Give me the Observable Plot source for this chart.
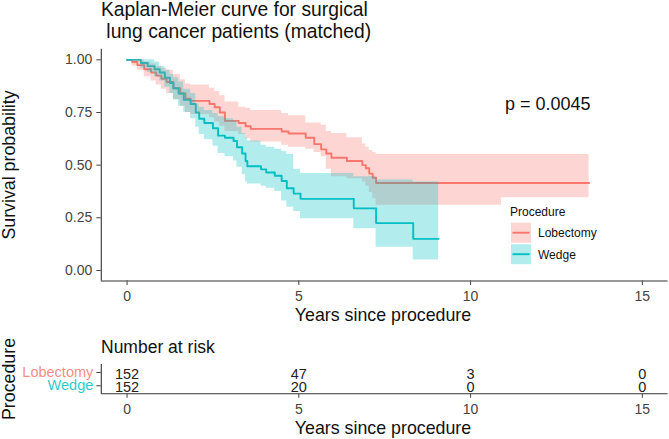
<!DOCTYPE html>
<html>
<head>
<meta charset="utf-8">
<script src="https://cdn.jsdelivr.net/npm/d3@7"></script>
<script src="https://cdn.jsdelivr.net/npm/@observablehq/plot@0.6"></script>
<style>
  html, body { margin: 0; padding: 0; background: #fff; }
  #fig { position: relative; width: 669px; height: 439px; font-family: "Liberation Sans", Arial, sans-serif; }
  #fig svg.plot { display: block; }
  #overlay { position: absolute; left: 0; top: 0; pointer-events: none; }
  #overlay text { font-family: "Liberation Sans", Arial, sans-serif; fill: #111; }
</style>
</head>
<body>
<div id="fig">
  <div id="main"></div>
  <div id="table"></div>
  <svg id="overlay" width="669" height="439" xmlns="http://www.w3.org/2000/svg"></svg>
</div>
<script>
// ---------------- data ----------------
const groups = ["Lobectomy", "Wedge"];
const groupColors = ["#F8766D", "#00BFC4"];

const lobTime  = [0, 0.15, 0.3, 0.5, 0.7, 0.85, 1.0, 1.15, 1.35, 1.55, 1.7, 1.85, 2.4, 2.55, 2.7, 2.85, 3.25, 3.45, 3.6, 4.5, 4.7, 5.2, 5.45, 5.65, 5.8, 5.95, 6.4, 6.85, 6.95, 7.05, 7.15, 7.25, 10.9, 13.45];
const lobSurv  = [1, 0.99, 0.975, 0.955, 0.94, 0.925, 0.91, 0.895, 0.865, 0.84, 0.815, 0.805, 0.79, 0.775, 0.75, 0.71, 0.70, 0.685, 0.672, 0.66, 0.65, 0.63, 0.60, 0.575, 0.555, 0.535, 0.52, 0.50, 0.485, 0.46, 0.44, 0.415, 0.415, 0.415];
const lobLower = [1, 0.97, 0.95, 0.92, 0.90, 0.88, 0.86, 0.84, 0.81, 0.78, 0.75, 0.74, 0.725, 0.705, 0.685, 0.66, 0.645, 0.625, 0.61, 0.595, 0.585, 0.575, 0.56, 0.54, 0.48, 0.445, 0.435, 0.42, 0.40, 0.37, 0.34, 0.31, 0.345, 0.345];
const lobUpper = [1, 1, 1, 0.99, 0.98, 0.97, 0.96, 0.95, 0.93, 0.905, 0.885, 0.88, 0.865, 0.85, 0.83, 0.80, 0.775, 0.77, 0.76, 0.745, 0.735, 0.70, 0.70, 0.69, 0.66, 0.65, 0.63, 0.60, 0.585, 0.57, 0.56, 0.55, 0.55, 0.55];

const wedgeTime  = [0, 0.4, 0.6, 0.8, 0.95, 1.1, 1.25, 1.35, 1.5, 1.65, 1.85, 2.0, 2.1, 2.25, 2.5, 2.65, 2.85, 3.1, 3.2, 3.35, 3.45, 3.5, 3.9, 4.05, 4.3, 4.5, 4.65, 4.85, 5.05, 6.6, 7.25, 8.33, 9.07];
const wedgeSurv  = [1, 0.985, 0.97, 0.955, 0.94, 0.915, 0.89, 0.865, 0.84, 0.81, 0.79, 0.75, 0.72, 0.70, 0.675, 0.64, 0.63, 0.615, 0.585, 0.555, 0.52, 0.495, 0.48, 0.465, 0.45, 0.425, 0.39, 0.365, 0.34, 0.295, 0.225, 0.15, 0.15];
const wedgeLower = [1, 0.96, 0.94, 0.92, 0.90, 0.87, 0.84, 0.81, 0.78, 0.75, 0.72, 0.68, 0.645, 0.62, 0.59, 0.555, 0.54, 0.52, 0.49, 0.455, 0.42, 0.41, 0.40, 0.39, 0.375, 0.33, 0.30, 0.28, 0.245, 0.198, 0.11, 0.05, 0.05];
const wedgeUpper = [1, 1, 1, 0.99, 0.97, 0.95, 0.93, 0.915, 0.895, 0.86, 0.84, 0.79, 0.775, 0.76, 0.745, 0.73, 0.72, 0.71, 0.68, 0.65, 0.63, 0.615, 0.595, 0.585, 0.575, 0.565, 0.55, 0.48, 0.46, 0.445, 0.43, 0.42, 0.42];

const riskTimes = [0, 5, 10, 15];
const lobRisk   = [152, 47, 3, 0];
const wedgeRisk = [152, 20, 0, 0];

const xTicks = [0, 5, 10, 15];
const yTicks = [0, 0.25, 0.5, 0.75, 1];

// ---------------- tables built from the arrays ----------------
function toRows(group, t, s, lo, hi) {
  return t.map((d, i) => ({group, time: d, surv: s[i], lower: lo[i], upper: hi[i]}));
}
const curveRows = [
  ...toRows("Lobectomy", lobTime, lobSurv, lobLower, lobUpper),
  ...toRows("Wedge", wedgeTime, wedgeSurv, wedgeLower, wedgeUpper)
];
const riskBy = {Lobectomy: lobRisk, Wedge: wedgeRisk};
const riskRows = groups.flatMap(g => riskTimes.map((t, i) => ({group: g, time: t, n: riskBy[g][i]})));
const level = g => groups.length - groups.indexOf(g); // Lobectomy on top

const xDomain = [-0.75, 15.75];
const yDomain = [-0.05, 1.05];
const font = '"Liberation Sans", Arial, sans-serif';

// ---------------- main survival plot ----------------
const main = Plot.plot({
  width: 669, height: 330,
  marginLeft: 100.8, marginRight: 1.4, marginTop: 48.8, marginBottom: 49.5,
  style: {fontFamily: font, background: "transparent"},
  x: {domain: xDomain},
  y: {domain: yDomain},
  color: {domain: groups, range: groupColors},
  marks: [
    Plot.line(curveRows, {x: "time", y: "surv", z: "group", stroke: "group", curve: "step-after", strokeWidth: 1.9}),
    Plot.areaY(curveRows, {x: "time", y1: "lower", y2: "upper", z: "group", fill: "group", fillOpacity: 0.3, curve: "step-after"}),
    Plot.ruleX([xDomain[0]], {stroke: "#333", strokeWidth: 1.1}),
    Plot.ruleY([yDomain[0]], {stroke: "#333", strokeWidth: 1.1}),
    Plot.axisX({ticks: xTicks, tickSize: 4.5, tickPadding: 5.5, fontSize: 14, color: "#444", label: null}),
    Plot.axisY({ticks: yTicks, tickFormat: d3.format(".2f"), tickSize: 4.5, tickPadding: 4.5, fontSize: 14, color: "#444", label: null})
  ]
});
main.classList.add("plot");
document.getElementById("main").appendChild(main);

// ---------------- risk table ----------------
const table = Plot.plot({
  width: 669, height: 109,
  marginLeft: 100.8, marginRight: 1.4, marginTop: 34, marginBottom: 45.7,
  style: {fontFamily: font, background: "transparent"},
  x: {domain: xDomain},
  y: {domain: [0.4, 2.6]},
  color: {domain: groups, range: groupColors},
  marks: [
    Plot.ruleX([xDomain[0]], {stroke: "#333", strokeWidth: 1.1}),
    Plot.ruleY([0.4], {stroke: "#333", strokeWidth: 1.1}),
    Plot.axisX({ticks: xTicks, tickSize: 4.5, tickPadding: 5.5, fontSize: 14, color: "#444", label: null}),
    Plot.axisY({ticks: [1, 2], tickFormat: () => "", tickSize: 4.5, color: "#444", label: null}),
    Plot.text(groups, {y: level, frameAnchor: "left", dx: -8, textAnchor: "end", fill: d => d, fontSize: 14.5, fillOpacity: 0.85}),
    Plot.text(riskRows, {x: "time", y: d => level(d.group), text: "n", fontSize: 14.5, fill: "#222", dy: 1.5})
  ]
});
table.classList.add("plot");
document.getElementById("table").appendChild(table);

// ---------------- titles, annotation and legend ----------------
const ns = "http://www.w3.org/2000/svg";
const ov = document.getElementById("overlay");
function addText(str, attrs) {
  const t = document.createElementNS(ns, "text");
  for (const k in attrs) t.setAttribute(k, attrs[k]);
  t.textContent = str;
  ov.appendChild(t);
  return t;
}
addText("Kaplan-Meier curve for surgical", {x: 101, y: 16, "font-size": 19.3});
addText(" lung cancer patients (matched)", {x: 101, y: 37.5, "font-size": 19.3, style: "white-space:pre"});
addText("p = 0.0045", {x: 505, y: 110, "font-size": 18});
addText("Survival probability", {transform: "translate(14.5,165) rotate(-90)", "text-anchor": "middle", "font-size": 17.8});
addText("Years since procedure", {x: 383, y: 320.5, "text-anchor": "middle", "font-size": 17.8});
addText("Number at risk", {x: 101, y: 353.3, "font-size": 17.5});
addText("Procedure", {transform: "translate(15,379) rotate(-90)", "text-anchor": "middle", "font-size": 17.8});
addText("Years since procedure", {x: 383, y: 434, "text-anchor": "middle", "font-size": 17.8});

// legend
addText("Procedure", {x: 510, y: 216, "font-size": 12});
groups.forEach((g, i) => {
  const y0 = 222.7 + i * 21.5;
  const r = document.createElementNS(ns, "rect");
  r.setAttribute("x", 511); r.setAttribute("y", y0);
  r.setAttribute("width", 20); r.setAttribute("height", 20);
  r.setAttribute("fill", groupColors[i]); r.setAttribute("fill-opacity", 0.3);
  ov.appendChild(r);
  const l = document.createElementNS(ns, "line");
  l.setAttribute("x1", 512.5); l.setAttribute("x2", 529.5);
  l.setAttribute("y1", y0 + 10); l.setAttribute("y2", y0 + 10);
  l.setAttribute("stroke", groupColors[i]); l.setAttribute("stroke-width", 1.9);
  ov.appendChild(l);
  addText(g, {x: 538, y: y0 + 14.3, "font-size": 12});
});
</script>
</body>
</html>
